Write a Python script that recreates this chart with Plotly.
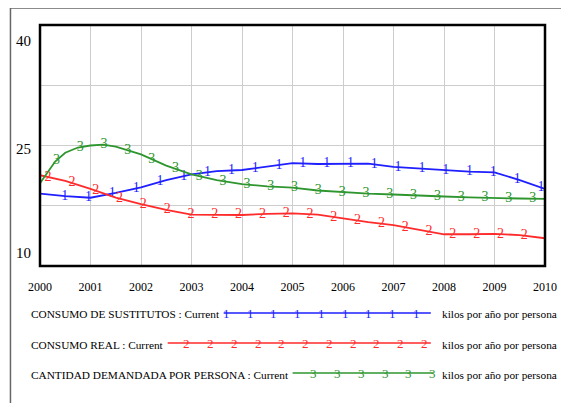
import numpy as np
import plotly.graph_objects as go

# ---------------- data ----------------
years = [2000, 2000.5, 2001, 2001.5, 2002, 2002.5, 2003, 2003.5, 2004, 2004.5, 2005,
         2005.5, 2006, 2006.5, 2007, 2007.5, 2008, 2008.5, 2009, 2009.5, 2010]

consumo_sustitutos = [19.0, 18.7, 18.5, 19.1, 19.8, 20.7, 21.4, 21.8, 21.95, 22.35, 22.8,
                      22.7, 22.7, 22.75, 22.35, 22.15, 21.9, 21.75, 21.65, 20.7, 19.6]

consumo_real = [21.3, 20.6, 19.6, 18.5, 17.7, 17.0, 16.4, 16.35, 16.35, 16.5, 16.55,
                16.4, 15.9, 15.45, 15.1, 14.5, 13.95, 13.95, 14.0, 13.85, 13.45]

years_demanda = [2000, 2000.15, 2000.3, 2000.5, 2000.75, 2001, 2001.25, 2001.5, 2001.75,
                 2002, 2002.5, 2003, 2003.5, 2004, 2004.5, 2005, 2005.5, 2006, 2006.5,
                 2007, 2007.5, 2008, 2008.5, 2009, 2009.5, 2010]
cantidad_demandada = [20.3, 21.7, 23.0, 24.1, 24.75, 25.0, 25.1, 24.85, 24.4,
                      23.9, 22.5, 21.4, 20.7, 20.2, 19.9, 19.75, 19.4, 19.2, 19.0,
                      18.9, 18.75, 18.65, 18.55, 18.45, 18.4, 18.35]

x_ticks = list(range(2000, 2011))
y_labels = [40, 25, 10]

series_names = ["CONSUMO DE SUSTITUTOS : Current",
                "CONSUMO REAL : Current",
                "CANTIDAD DEMANDADA POR PERSONA : Current"]
series_marks = ["1", "2", "3"]
unit_text = "kilos por año por persona"

# ---------------- style ----------------
OFF = 8                       # default page body margin
W, H = 569 - OFF, 403 - OFF
PL, PR, PT, PB = 40 - OFF, 553 - OFF, 25 - OFF, 266 - OFF   # plot area in figure pixels
FONT = "Liberation Serif, Times New Roman, Times, serif"
colors = ["#1f1fff", "#ff2a2a", "#2e962e"]
grid_c = "#cdcdcd"


def px_x(x):
    # x in screenshot pixels -> paper
    return (x - OFF - PL) / (PR - PL)


def px_y(y):
    return (PB - (y - OFF)) / (PB - PT)


fig = go.Figure()

series = [(years, consumo_sustitutos), (years, consumo_real), (years_demanda, cantidad_demandada)]
mark_start = [2000.49, 2000.16, 2000.325]
mark_step = 0.4715

for (xs, ys), c, m, s0 in zip(series, colors, series_marks, mark_start):
    fig.add_trace(go.Scatter(x=xs, y=ys, mode="lines", line=dict(color=c, width=1.8),
                             showlegend=False, hoverinfo="skip"))
    mx = np.arange(s0, 2010.0, mark_step)
    my = np.interp(mx, xs, ys)
    fig.add_trace(go.Scatter(x=mx, y=my, mode="text", text=[m] * len(mx),
                             textposition="middle center",
                             textfont=dict(family=FONT, size=14, color=c),
                             showlegend=False, hoverinfo="skip"))

shapes = []
annotations = []

# plot border
shapes.append(dict(type="rect", xref="paper", yref="paper", x0=0, x1=1, y0=0, y1=1,
                   line=dict(color="black", width=2.5), layer="above"))
# outer frame (top and left)
shapes.append(dict(type="line", xref="paper", yref="paper", x0=px_x(10), x1=px_x(575),
                   y0=px_y(8), y1=px_y(8), line=dict(color="#666666", width=1.5)))
shapes.append(dict(type="line", xref="paper", yref="paper", x0=px_x(10), x1=px_x(10),
                   y0=px_y(8), y1=px_y(410), line=dict(color="#666666", width=1.5)))

# y labels (Vensim style: top inside, bottom inside)
yshifts = {40: -16, 25: -3, 10: 13}
for v in y_labels:
    annotations.append(dict(text=str(v), xref="paper", yref="y", x=px_x(33), y=v,
                            xanchor="right", yanchor="middle", showarrow=False,
                            yshift=yshifts[v], font=dict(family=FONT, size=15, color="black")))

# legend rows
rows = [
    dict(y=313, ty=314, x0=226.6, x1=437, m0=229.5, n=9),
    dict(y=343, ty=345, x0=169.7, x1=437, m0=189.3, n=11),
    dict(y=373, ty=375, x0=296.6, x1=439.5, m0=318.3, n=6),
]
for r, name, c, m in zip(rows, series_names, colors, series_marks):
    annotations.append(dict(text=name, xref="paper", yref="paper", x=px_x(29), y=px_y(r["ty"]),
                            xanchor="left", yanchor="middle", showarrow=False,
                            font=dict(family=FONT, size=11.3, color="black")))
    annotations.append(dict(text=unit_text, xref="paper", yref="paper", x=px_x(446), y=px_y(r["ty"]),
                            xanchor="left", yanchor="middle", showarrow=False,
                            font=dict(family=FONT, size=11.3, color="black")))
    shapes.append(dict(type="line", xref="paper", yref="paper", x0=px_x(r["x0"]), x1=px_x(r["x1"]),
                       y0=px_y(r["y"]), y1=px_y(r["y"]), line=dict(color=c, width=1.5)))
    for k in range(r["n"]):
        annotations.append(dict(text=m, xref="paper", yref="paper", x=px_x(r["m0"] + 24.1 * k),
                                y=px_y(r["y"]), xanchor="center", yanchor="middle", showarrow=False,
                                font=dict(family=FONT, size=13, color=c)))

fig.update_layout(
    width=W, height=H, autosize=False,
    margin=dict(l=PL, r=W - PR, t=PT, b=H - PB, pad=0),
    paper_bgcolor="white", plot_bgcolor="white",
    shapes=shapes, annotations=annotations,
    xaxis=dict(range=[2000, 2010], tickvals=x_ticks, ticktext=[str(t) for t in x_ticks],
               showgrid=True, gridcolor=grid_c, gridwidth=1, zeroline=False, showline=False,
               ticks="", ticklabelstandoff=12,
               tickfont=dict(family=FONT, size=12, color="black")),
    yaxis=dict(range=[10, 40], tickvals=[10, 17.5, 25, 32.5, 40], showticklabels=False,
               showgrid=True, gridcolor=grid_c, gridwidth=1, zeroline=False, showline=False,
               ticks=""),
)

fig.write_html("out.html")
